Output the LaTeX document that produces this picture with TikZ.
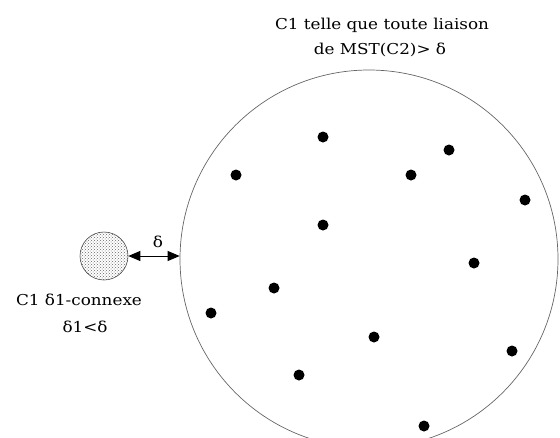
\documentclass[tikz,border=0pt]{standalone}
\usepackage{fontspec}
\setmainfont{DejaVu Serif}[FakeStretch=1.12]
\usetikzlibrary{arrows.meta,patterns}
\begin{document}
\begin{tikzpicture}[x=1pt,y=-1pt,
  pt/.style={circle,fill=black,inner sep=0pt,minimum size=11pt},
  lbl/.style={font=\fontsize{15}{17}\selectfont,inner sep=0pt,align=center}]
\useasboundingbox (0,0) rectangle (560,437);
\clip (0,0) rectangle (560,437);
\node[circle,draw=black!60,line width=0.7pt,minimum size=378pt,inner sep=0pt] (big) at (369,259) {};
\node[circle,draw=black!70,line width=0.6pt,pattern=crosshatch dots,pattern color=black!60,minimum size=48pt,inner sep=0pt] (small) at (104,256) {};
\draw[{Triangle[length=12pt,width=10pt]}-{Triangle[length=12pt,width=10pt]},line width=0.8pt] (small.east) -- (big.west |- small.east);
\node[lbl] (d) at (158,242) {δ};
\node[lbl] (t1) at (382,25) {C1 telle que toute liaison};
\node[lbl] (t2) at (380,50) {de MST(C2)> δ};
\node[lbl] (l1) at (79,300) {C1 δ1-connexe};
\node[lbl] (l2) at (85,327) {δ1<δ};
\node[pt] (p1) at (323,137) {};
\node[pt] (p2) at (449,150) {};
\node[pt] (p3) at (236,175) {};
\node[pt] (p4) at (411,175) {};
\node[pt] (p5) at (525,200) {};
\node[pt] (p6) at (323,225) {};
\node[pt] (p7) at (474,263) {};
\node[pt] (p8) at (274,288) {};
\node[pt] (p9) at (211,313) {};
\node[pt] (p10) at (374,337) {};
\node[pt] (p11) at (512,351) {};
\node[pt] (p12) at (299,375) {};
\node[pt] (p13) at (424,426) {};
\end{tikzpicture}
\end{document}
